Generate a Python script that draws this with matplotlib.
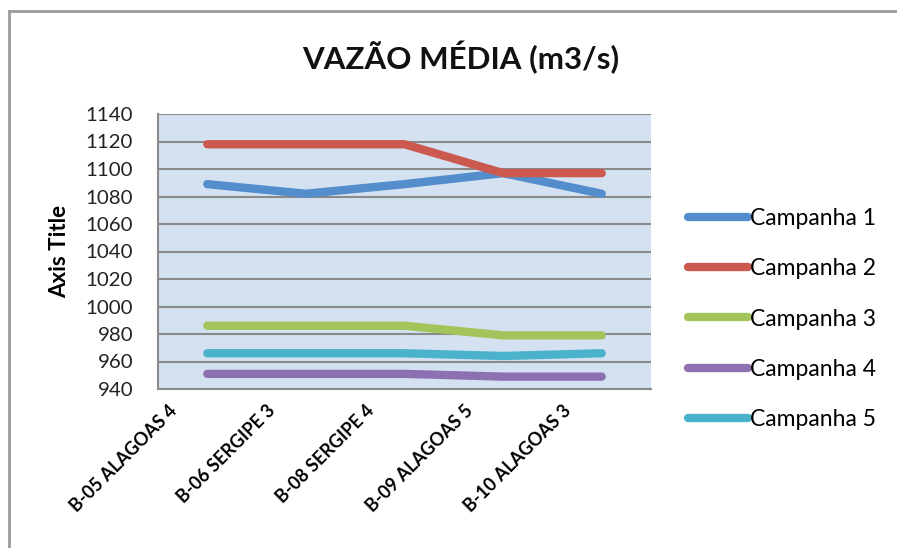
import numpy as np
import matplotlib
matplotlib.use("Agg")
import matplotlib.pyplot as plt
import matplotlib.transforms as mtransforms
from matplotlib.lines import Line2D

plt.rcParams["font.family"] = ["Lato", "DejaVu Sans"]

# ── Data ──────────────────────────────────────────────────────────────────────
STATIONS = ["B-05 ALAGOAS 4", "B-06 SERGIPE 3", "B-08 SERGIPE 4",
            "B-09 ALAGOAS 5", "B-10 ALAGOAS 3"]
SERIES_NAMES = ["Campanha 1", "Campanha 2", "Campanha 3", "Campanha 4", "Campanha 5"]
campanha_1 = [1089, 1082, 1089, 1097, 1082]
campanha_2 = [1118, 1118, 1118, 1097, 1097]
campanha_3 = [986, 986, 986, 979, 979]
campanha_4 = [951, 951, 951, 949, 949]
campanha_5 = [966, 966, 966, 964, 966]
Y_TICKS = list(range(940, 1141, 20))

COLORS = ["#548dcc", "#cb5950", "#a3c45b", "#8d70b1", "#4bb2cc"]

# ── Plot ──────────────────────────────────────────────────────────────────────
fig = plt.figure(figsize=(8.97, 5.48), dpi=100)
ax = fig.add_axes([158 / 897, 1 - 389 / 548, 493 / 897, 275 / 548])
ax.set_facecolor("#d3e1f1")

x = np.arange(len(STATIONS))
for vals, name, c in zip([campanha_1, campanha_2, campanha_3, campanha_4, campanha_5],
                         SERIES_NAMES, COLORS):
    ax.plot(x, vals, color=c, lw=6, solid_capstyle="round",
            solid_joinstyle="round", label=name, zorder=3)

ax.set_xlim(-0.5, len(STATIONS) - 0.5)
ax.set_ylim(940, 1140)
ax.set_yticks(Y_TICKS)
ax.yaxis.grid(True, color="#8a8a8a", lw=1.5, zorder=1)
ax.set_axisbelow(True)
ax.tick_params(axis="y", length=0, pad=18, labelsize=14.7, labelcolor="#222222")
ax.tick_params(axis="x", length=0)
for s in ["top", "right"]:
    ax.spines[s].set_visible(False)
for s in ["left", "bottom"]:
    ax.spines[s].set_color("#8a8a8a")
    ax.spines[s].set_linewidth(1.5)

ax.set_xticks(x)
ax.set_xticklabels(STATIONS, rotation=45, ha="right", va="center",
                   rotation_mode="anchor", fontsize=13, fontweight="bold")
offset = mtransforms.ScaledTranslation(-0.33, -0.14, fig.dpi_scale_trans)
for lbl in ax.get_xticklabels():
    lbl.set_transform(lbl.get_transform() + offset)

ax.set_ylabel("Axis Title", fontsize=16, fontweight="bold")
ax.yaxis.set_label_coords(-0.178, 0.5)

fig.text(461 / 897, 1 - 57 / 548, "VAZÃO MÉDIA (m3/s)", ha="center", va="center",
         fontsize=22.5, fontweight="bold", color="#111111")

fig.legend(loc="center left", bbox_to_anchor=(688 / 897, 1 - 319 / 548),
           frameon=False, fontsize=16.5, handlelength=2.6, handletextpad=0.1,
           labelspacing=1.27, borderpad=0, borderaxespad=0)

# chart border (Excel chart area frame)
fig.add_artist(Line2D([9 / 897, 1], [1 - 11 / 548, 1 - 11 / 548],
                      transform=fig.transFigure, color="#9a9a9a", lw=2))
fig.add_artist(Line2D([9 / 897, 9 / 897], [0, 1 - 11 / 548],
                      transform=fig.transFigure, color="#9a9a9a", lw=2))

fig.savefig("out.png", dpi=100)
plt.close(fig)
